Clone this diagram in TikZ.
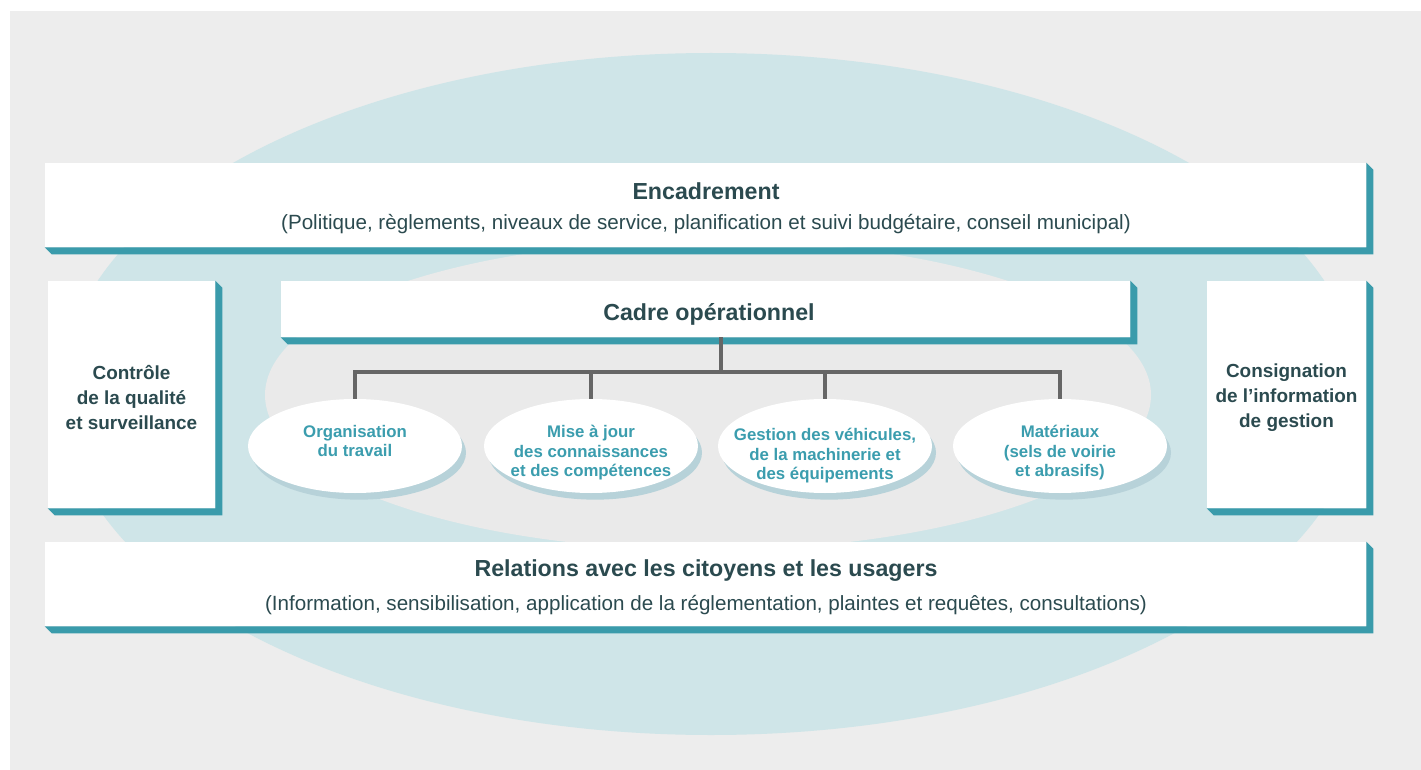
\documentclass[tikz,border=0pt]{standalone}
\usepackage{fontspec}
\setmainfont{Liberation Sans}
\usetikzlibrary{shapes.geometric,shadows,calc,fit}

\definecolor{pagegray}{HTML}{EDEDED}
\definecolor{haloblue}{HTML}{CFE5E8}
\definecolor{coregray}{HTML}{EAEAEA}
\definecolor{edgeteal}{HTML}{3A9BAB}
\definecolor{inkdark}{HTML}{2B4A4F}
\definecolor{inkteal}{HTML}{3B9DAE}
\definecolor{linkgray}{HTML}{666666}
\definecolor{ovalshade}{HTML}{B7D2D9}

% extruded teal band on the right and bottom of a box
\newcommand\depthband[1]{%
  \fill[edgeteal] (#1.north east) -- ++(7,7)
    -- ($(#1.south east)+(7,7)$) -- ($(#1.south west)+(7,7)$)
    -- (#1.south west) -- (#1.south east) -- cycle;}

\begin{document}
\begin{tikzpicture}[x=0.75pt,y=-0.75pt,
  panel/.style={rectangle, fill=white, inner sep=0pt, align=center,
    text=inkdark, font=\fontsize{14.2}{18.75}\selectfont\bfseries},
  headline/.style={text=inkdark, inner sep=0pt,
    font=\fontsize{17.4}{20}\selectfont\bfseries},
  subline/.style={text=inkdark, inner sep=0pt,
    font=\fontsize{15.45}{18}\selectfont},
  oval/.style={ellipse, fill=white, inner sep=0pt,
    minimum width=160.5pt, minimum height=70.5pt,
    drop shadow={shadow xshift=3pt, shadow yshift=-5pt,
      fill=ovalshade, opacity=1}},
  ovaltext/.style={anchor=north, align=center, inner sep=0pt,
    text=inkteal, font=\fontsize{12.6}{14.6}\selectfont\bfseries},
  link/.style={draw=linkgray, line width=2.4pt}]

\useasboundingbox (0,0) rectangle (1421,770);

% backdrop
\fill[pagegray] (10,11) rectangle (1421,770);
\fill[haloblue] (711,394) ellipse [x radius=650, y radius=341];
\fill[coregray] (708,395) ellipse [x radius=443, y radius=155];

% main panels
\node[panel, fit={(45,163) (1366,247)}] (enc) {};
\depthband{enc}
\node[headline] (enc-t) at (706,191) {Encadrement};
\node[subline] (enc-s) at (706,224) {(Politique, règlements, niveaux de service, planification et suivi budgétaire, conseil municipal)};

\node[panel, fit={(48,281) (215,508)}] (qual) {};
\depthband{qual}
\node[panel] (qual-t) at ($(qual.center)+(0,3)$) {Contrôle\\de la qualité\\et surveillance};

\node[panel, fit={(1207,281) (1366,508)}] (cons) {};
\depthband{cons}
\node[panel] (cons-t) at ($(cons.center)+(0,3)$) {Consignation\\de l’information\\de gestion};

\node[panel, fit={(281,281) (1130,337)}] (cadre) {};
\depthband{cadre}
\node[headline] (cadre-t) at (709,314) {Cadre opérationnel};

\node[panel, fit={(45,542) (1366,626)}] (rel) {};
\depthband{rel}
\node[headline] (rel-t) at (706,571) {Relations avec les citoyens et les usagers};
\node[subline] (rel-s) at (706,605) {(Information, sensibilisation, application de la réglementation, plaintes et requêtes, consultations)};

% operational components
\node[oval] (e1) at (355,446) {};
\node[oval] (e2) at (591,446) {};
\node[oval] (e3) at (825,446) {};
\node[oval] (e4) at (1060,446) {};

\node[ovaltext] (e1-t) at ($(e1.center)+(0,-21)$) {Organisation\\du travail};
\node[ovaltext] (e2-t) at ($(e2.center)+(0,-21)$) {Mise à jour\\des connaissances\\et des compétences};
\node[ovaltext] (e3-t) at ($(e3.center)+(0,-18)$) {Gestion des véhicules,\\de la machinerie et\\des équipements};
\node[ovaltext] (e4-t) at ($(e4.center)+(0,-21)$) {Matériaux\\(sels de voirie\\et abrasifs)};

% tree connectors
\coordinate (hub) at (721,372);
\draw[link] (hub |- cadre.south) -- (hub);
\draw[link] (e1.north) -- (e1.north |- hub) -- (e4.north |- hub) -- (e4.north);
\draw[link] (e2.north |- hub) -- (e2.north);
\draw[link] (e3.north |- hub) -- (e3.north);

\end{tikzpicture}
\end{document}
